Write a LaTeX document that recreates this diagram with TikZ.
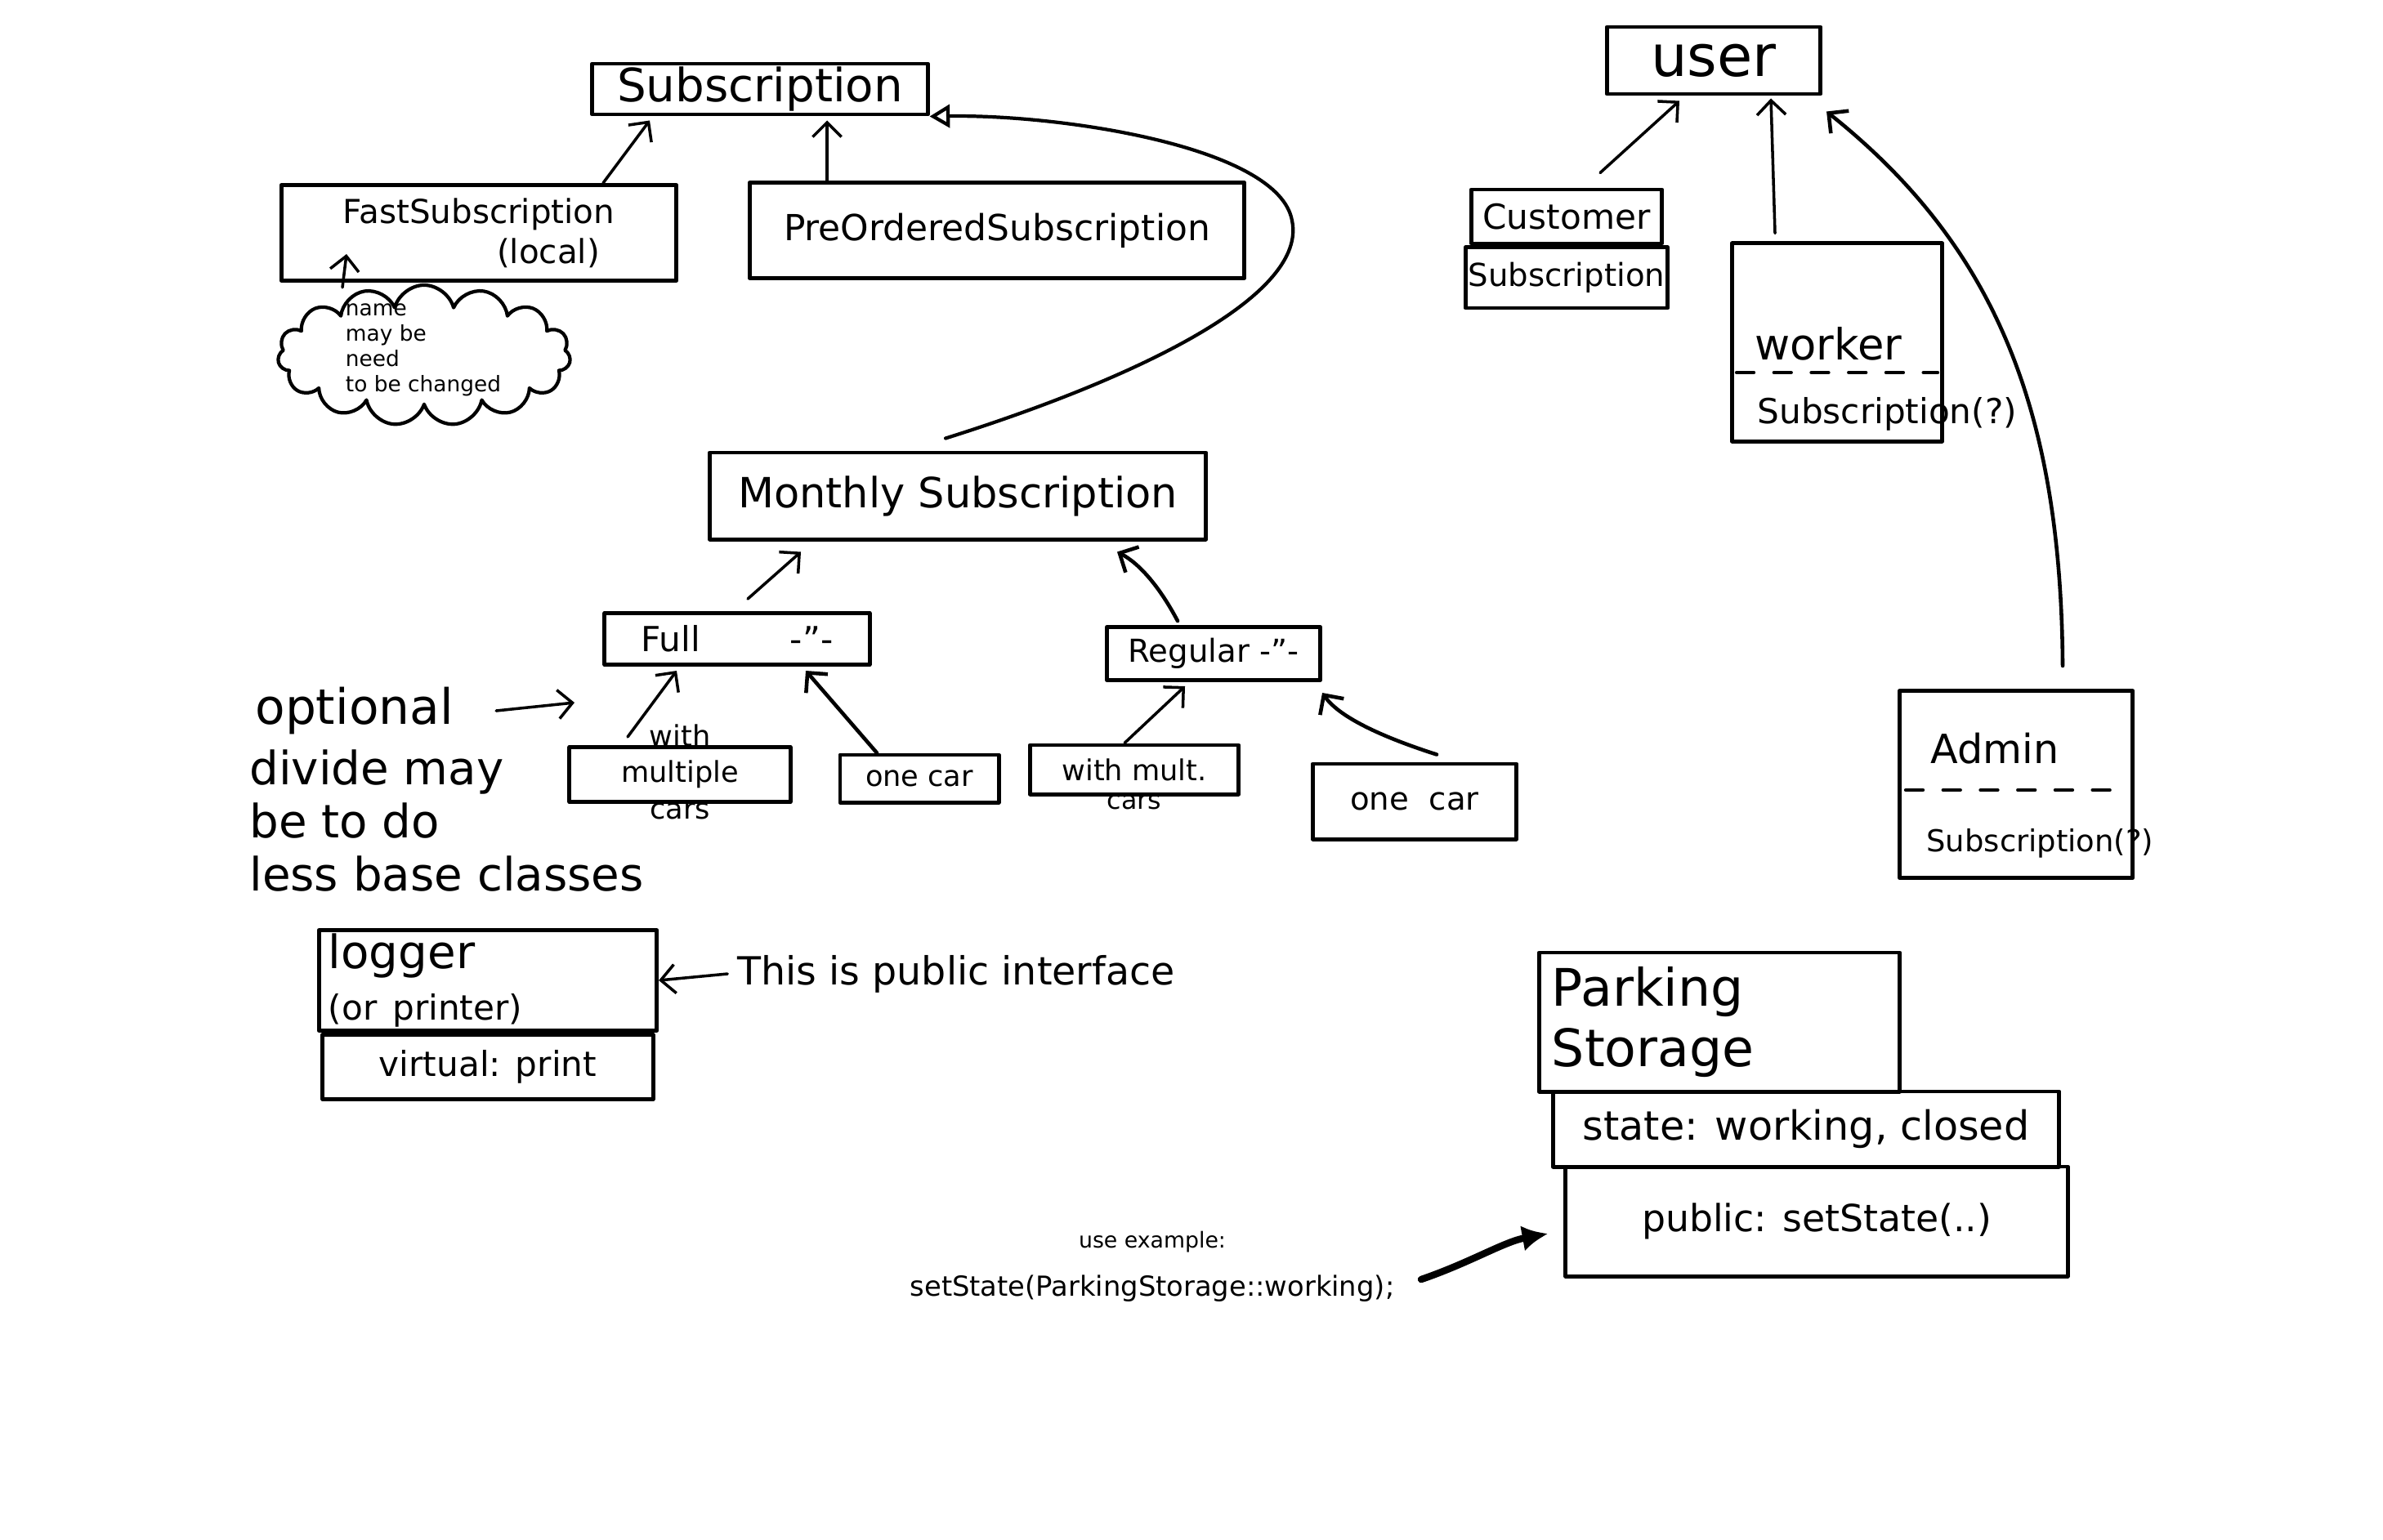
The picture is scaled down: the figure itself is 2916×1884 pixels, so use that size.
\documentclass[tikz,border=0pt]{standalone}
\usepackage{fontspec}
\setmainfont{DejaVu Sans}
\usetikzlibrary{positioning,calc,arrows.meta,shapes.symbols}

\begin{document}
\begin{tikzpicture}[x=0.01cm, y=-0.01cm, line cap=round, line join=round,
  box/.style={draw, line width=1.4pt, align=center, inner xsep=3pt, inner ysep=1pt},
  fs/.style 2 args={font=\fontsize{#1}{#2}\selectfont},
  inh/.style={line width=1pt, -{Straight Barb[length=5pt,width=10pt]}},
  sep/.style={line width=1.2pt, dash pattern=on 6pt off 7pt}]
\useasboundingbox (0,0) rectangle (2916,1884);
\begin{scope}
% subscriptions
\node[box, fs={16}{19}, minimum width=4.1cm, minimum height=0.62cm] (sub) at (930,109) {Subscription};
\node[box, fs={11.5}{14}, minimum width=4.83cm, minimum height=1.17cm] (fast) at (586,285) {FastSubscription\\\hspace*{1.7cm}(local)};
\node[cloud, cloud puffs=15, aspect=2, draw, line width=1.2pt, minimum width=3.58cm, minimum height=1.72cm] (note) at (519,435) {};
\node[fs={7.5}{8.8}, align=left] (notetxt) at (518,428) {name\\may be\\need\\to be changed};
\node[box, fs={12.5}{15}, minimum width=6.05cm, minimum height=1.17cm] (pre) at (1220,282) {PreOrderedSubscription};
\node[box, fs={14.5}{17}, minimum width=6.07cm, minimum height=1.06cm] (mon) at (1172,607) {Monthly Subscription};
\node[box, fs={12}{14}, minimum width=3.24cm, minimum height=0.63cm] (full) at (902,782) {Full\hspace{1.1cm}-''-};
\node[box, fs={11}{13}, minimum width=2.61cm, minimum height=0.65cm] (reg) at (1485,800) {Regular -''-};
\node[box, fs={10}{12}, minimum width=2.7cm, minimum height=0.67cm,
  label={[fs={10}{12}, yshift=-4pt]above:with}, label={[fs={10}{12}, yshift=4pt]below:cars}] (fmc) at (832,948) {multiple};
\node[box, fs={10}{12}, minimum width=1.94cm, minimum height=0.58cm] (foc) at (1125,953) {one car};
\node[box, fs={10}{12}, minimum width=2.55cm, minimum height=0.6cm,
  label={[fs={9}{11}, yshift=4pt]below:cars}] (rmc) at (1388,942) {with mult.};
\node[box, fs={11}{13}, minimum width=2.49cm, minimum height=0.92cm] (roc) at (1731,981) {one\ \ car};
\node[fs={17}{20}, anchor=west] (opt) at (300,870) {optional};
\node[fs={16}{18.5}, anchor=north west, align=left] (div) at (293,905) {divide may\\be to do\\less base classes};
\coordinate (optto) at (703,860);
% logger
\node[box, fs={16}{18}, minimum width=4.13cm, minimum height=1.23cm, text width=3.9cm, align=left] (log) at (597,1200) {logger\\{\fontsize{12}{13}\selectfont(or printer)}};
\node[box, fs={12}{14}, minimum width=4.04cm, minimum height=0.79cm, below=0pt of log] (logv) {virtual: print};
\node[fs={13.5}{16}] (pubnote) at (1170,1192) {This is public interface};
% users
\node[box, fs={20}{22}, minimum width=2.61cm, minimum height=0.82cm] (user) at (2097,74) {user};
\node[box, fs={12}{14}, minimum width=2.33cm, minimum height=0.66cm] (cus) at (1917,265) {Customer};
\node[box, fs={11}{13}, inner xsep=1pt, minimum width=2.33cm, minimum height=0.74cm, below=0pt of cus] (cussub) {Subscription};
\node[box, minimum width=2.57cm, minimum height=2.42cm] (wk) at (2248,419) {};
\node[fs={15}{17}, anchor=base west] (wkname) at (2135,440) {worker};
\node[fs={12}{14}, anchor=base west] (wksub) at (2138,518) {Subscription(?)};
\node[box, minimum width=2.85cm, minimum height=2.29cm] (adm) at (2467,960) {};
\node[fs={14}{16}, anchor=base west] (admname) at (2350,934) {Admin};
\node[fs={10.5}{12}, anchor=base west] (admsub) at (2345,1042) {Subscription(?)};
% parking storage
\node[box, fs={18}{21}, minimum width=4.41cm, minimum height=1.7cm, text width=4.1cm, align=left] (ps) at (2104,1251) {Parking\\Storage};
\node[box, fs={14}{16}, minimum width=6.19cm, minimum height=0.92cm] (pss) at (2210,1382) {state: working, closed};
\node[box, fs={13}{15}, minimum width=6.14cm, minimum height=1.34cm] (psp) at (2223,1495) {public: setState(..)};
\node[fs={7.6}{9}] (exlbl) at (1410,1520) {use example:};
\node[fs={9.6}{11}] (ex) at (1410,1577) {setState(ParkingStorage::working);};
\coordinate (exarr) at (1739,1566);
\end{scope}
\begin{scope}
\draw[sep] ($(wk.west)+(8,37)$) -- ($(wk.east)+(-8,37)$);
\draw[sep] ($(adm.west)+(10,7)$) -- ($(adm.east)+(-10,7)$);
\draw[inh] ($(fast.north)+(152,0)$) -- ($(sub.south)+(-135,5)$);
\draw[inh] ($(pre.north)+(-208,0)$) -- ($(sub.south)+(82,5)$);
\draw[line width=1.2pt, -{Triangle[open,length=7pt,width=8pt]}] ($(mon.north)+(-15,-15)$) .. controls (1400,460) and (1600,360) .. (1581,270) .. controls (1565,180) and (1300,140) .. (sub.south east);
\draw[inh] ($(note.north)+(-100,5)$) -- ($(fast.south)+(-162,-35)$);
\draw[inh] ($(full.north)+(13,-15)$) -- ($(mon.south)+(-192,13)$);
\draw[inh, line width=1.3pt] ($(reg.north)+(-44,-5)$) .. controls (1420,720) and (1395,690) .. ($(mon.south)+(195,13)$);
\draw[inh] ($(fmc.north)+(-64,-10)$) -- ($(full.south)+(-74,5)$);
\draw[inh, line width=1.3pt] ($(foc.north)+(-52,0)$) -- ($(full.south)+(84,5)$);
\draw[inh] ($(rmc.north)+(-12,0)$) -- ($(reg.south)+(-35,5)$);
\draw[inh, line width=1.3pt] ($(roc.north)+(27,-9)$) .. controls (1700,905) and (1640,880) .. ($(reg.south east)+(0,13)$);
\draw[inh] ($(opt.east)+(40,0)$) -- (optto);
\draw[inh] (pubnote.west) -- (log.east);
\draw[inh] ($(cus.north)+(41,-18)$) -- ($(user.south)+(-42,6)$);
\draw[inh] ($(wk.north)+(-76,-10)$) -- ($(user.south)+(70,3)$);
\draw[inh, line width=1.3pt] ($(adm.north)+(57,-28)$) .. controls (2522,500) and (2440,300) .. ($(user.south east)+(5,19)$);
\draw[line width=2.4pt, -{Latex[length=9pt,width=9pt]}] (exarr) .. controls (1800,1545) and (1840,1520) .. ($(psp.west)+(-19,15)$);
\end{scope}
\end{tikzpicture}
\end{document}
